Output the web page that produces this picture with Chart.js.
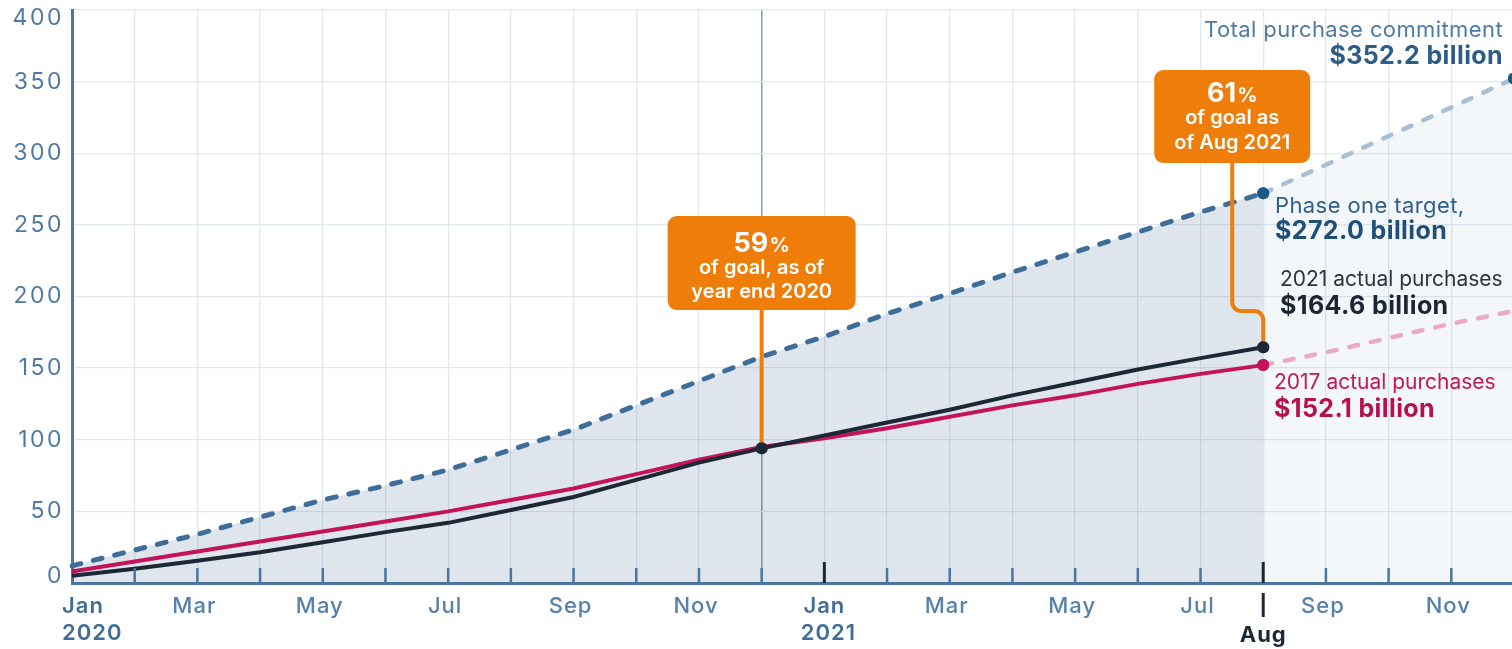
<!DOCTYPE html>
<html>
<head>
<meta charset="utf-8">
<script src="https://cdn.jsdelivr.net/npm/chart.js@4"></script>
<style>
  html, body { margin: 0; padding: 0; background: #ffffff; overflow: hidden; }
  #wrap { position: absolute; left: 0; top: 0; width: 1520px; height: 649px; }
</style>
</head>
<body>
<div id="wrap"><canvas id="c" width="1520" height="649"></canvas></div>
<script>
// Months Jan 2020 – Dec 2021
const months = [
  'Jan 2020','Feb 2020','Mar 2020','Apr 2020','May 2020','Jun 2020',
  'Jul 2020','Aug 2020','Sep 2020','Oct 2020','Nov 2020','Dec 2020',
  'Jan 2021','Feb 2021','Mar 2021','Apr 2021','May 2021','Jun 2021',
  'Jul 2021','Aug 2021','Sep 2021','Oct 2021','Nov 2021','Dec 2021'
];

// Axis labels under the month ticks (arrays = two lines)
const xTickLabels = [
  ['Jan','2020'], '', 'Mar', '', 'May', '', 'Jul', '', 'Sep', '', 'Nov', '',
  ['Jan','2021'], '', 'Mar', '', 'May', '', 'Jul', '', 'Sep', '', 'Nov', ''
];
const highlightMonth = 'Aug 2021';
const highlightLabel = 'Aug';
const yTicks = [0, 50, 100, 150, 200, 250, 300, 350, 400];

// Cumulative purchases, $ billion
const phaseOneTarget = [12, 23, 34, 46, 58, 68, 79, 93, 107, 124, 141, 158,
                        172, 188, 202, 217, 231, 245, 259, 272.0,
                        null, null, null, null];
const totalCommitment = [null, null, null, null, null, null, null, null, null, null, null, null,
                         null, null, null, null, null, null, null, 272.0,
                         292, 312, 332, 352.2];
const actual2021 = [5, 10, 15.5, 21.5, 28.5, 35.5, 42, 51, 60, 72, 84, 94,
                    103, 112, 121, 131, 140, 149, 157, 164.6,
                    null, null, null, null];
const actual2017 = [8, 15, 22, 29, 36, 43, 50, 58, 66, 76, 86, 95,
                    101, 108, 116, 124, 131, 139, 146, 152.1,
                    null, null, null, null];
const pace2017 = [null, null, null, null, null, null, null, null, null, null, null, null,
                  null, null, null, null, null, null, null, 152.1,
                  161, 171, 181, 190];

const yearEndIdx = months.indexOf('Dec 2020');
const latestIdx = months.indexOf(highlightMonth);
const lastIdx = months.length - 1;

const FONT = 'Inter, "Open Sans", sans-serif';
const AXIS = '#4a76a0';
const ORANGE = '#ef7d0a';

const billions = v => '$' + v.toFixed(1) + ' billion';

function dotRadius(indices) {
  return c => indices.includes(c.dataIndex) ? 6 : 0;
}

function drawPct(ctx, num, cx, cy) {
  ctx.save();
  ctx.fillStyle = '#ffffff';
  ctx.textBaseline = 'alphabetic';
  ctx.font = '700 27px ' + FONT;
  const w1 = ctx.measureText(num).width;
  ctx.font = '700 20px ' + FONT;
  const w2 = ctx.measureText('%').width;
  const left = cx - (w1 + w2 + 1) / 2;
  ctx.textAlign = 'left';
  ctx.font = '700 27px ' + FONT;
  ctx.fillText(num, left, cy + 10);
  ctx.font = '700 20px ' + FONT;
  ctx.fillText('%', left + w1 + 1, cy + 10);
  ctx.restore();
}

const decor = {
  id: 'decor',
  afterDatasetsDraw(chart) {
    const ctx = chart.ctx;
    const xs = chart.scales.x, ys = chart.scales.y;
    const area = chart.chartArea;

    // month ticks standing up from the axis
    ctx.save();
    for (let i = 1; i < months.length; i++) {
      const x = xs.getPixelForValue(i);
      const strong = (i === 12 || i === latestIdx);
      ctx.strokeStyle = strong ? '#1c2836' : AXIS;
      ctx.lineWidth = strong ? 3 : 2.5;
      ctx.beginPath();
      ctx.moveTo(x, area.bottom);
      ctx.lineTo(x, area.bottom - (strong ? 21 : 15));
      ctx.stroke();
    }
    ctx.restore();

    // callout: year end 2020
    ctx.save();
    const x1 = xs.getPixelForValue(yearEndIdx);
    const y1 = ys.getPixelForValue(actual2021[yearEndIdx]);
    ctx.strokeStyle = ORANGE;
    ctx.lineWidth = 4;
    ctx.beginPath();
    ctx.moveTo(x1, 305);
    ctx.lineTo(x1, y1);
    ctx.stroke();
    ctx.fillStyle = ORANGE;
    ctx.beginPath();
    ctx.roundRect(x1 - 94, 216, 188, 94, 9);
    ctx.fill();
    drawPct(ctx, '59', x1, 242);
    ctx.fillStyle = '#ffffff';
    ctx.font = '600 20px ' + FONT;
    ctx.textAlign = 'center';
    ctx.textBaseline = 'middle';
    ctx.fillText('of goal, as of', x1, 268);
    ctx.fillText('year end 2020', x1, 292);
    ctx.restore();

    // callout: Aug 2021
    ctx.save();
    const px = xs.getPixelForValue(latestIdx);
    const py = ys.getPixelForValue(actual2021[latestIdx]);
    const sx = px - 31;
    const r = 9;
    ctx.strokeStyle = ORANGE;
    ctx.lineWidth = 4;
    ctx.beginPath();
    ctx.moveTo(sx, 160);
    ctx.lineTo(sx, 311 - r);
    ctx.arcTo(sx, 311, sx + r, 311, r);
    ctx.lineTo(px - r, 311);
    ctx.arcTo(px, 311, px, 311 + r, r);
    ctx.lineTo(px, py);
    ctx.stroke();
    ctx.fillStyle = ORANGE;
    ctx.beginPath();
    ctx.roundRect(sx - 78, 70, 156, 93, 9);
    ctx.fill();
    drawPct(ctx, '61', sx, 92);
    ctx.fillStyle = '#ffffff';
    ctx.font = '600 20px ' + FONT;
    ctx.textAlign = 'center';
    ctx.textBaseline = 'middle';
    ctx.fillText('of goal as', sx, 118);
    ctx.fillText('of Aug 2021', sx, 143);
    ctx.restore();

    // end markers on top of the callout stems
    [[0, yearEndIdx], [0, latestIdx], [3, latestIdx], [2, latestIdx], [1, lastIdx]].forEach(([d, i]) => {
      const el = chart.getDatasetMeta(d).data[i];
      if (el) el.draw(ctx, area);
    });
  },
  afterDraw(chart) {
    const ctx = chart.ctx;
    const xs = chart.scales.x, ys = chart.scales.y;
    ctx.save();
    ctx.textBaseline = 'middle';

    // y axis labels
    ctx.font = '400 23px ' + FONT;
    ctx.fillStyle = '#4f7aa3';
    ctx.textAlign = 'right';
    ctx.letterSpacing = '2.5px';
    yTicks.forEach(v => {
      let y = ys.getPixelForValue(v);
      if (v === yTicks[yTicks.length - 1]) y += 8;
      if (v === 0) y -= 7;
      ctx.fillText(String(v), 64, y);
    });

    // x axis labels
    ctx.letterSpacing = '1px';
    xTickLabels.forEach((lab, i) => {
      if (!lab) return;
      const x = xs.getPixelForValue(i);
      if (Array.isArray(lab)) {
        ctx.font = '600 22px ' + FONT;
        ctx.fillStyle = '#3f6d98';
        if (i === 0) {
          ctx.textAlign = 'left';
          ctx.fillText(lab[0], 62, 606);
          ctx.fillText(lab[1], 62, 633);
        } else {
          ctx.textAlign = 'center';
          ctx.fillText(lab[0], x, 606);
          ctx.fillText(lab[1], x + 4, 633);
        }
      } else {
        ctx.font = '500 22px ' + FONT;
        ctx.fillStyle = '#5581aa';
        ctx.textAlign = 'center';
        ctx.fillText(lab, x - 3, 606);
      }
    });

    // highlighted month
    const hx = xs.getPixelForValue(latestIdx);
    ctx.strokeStyle = '#1c2836';
    ctx.lineWidth = 3;
    ctx.beginPath();
    ctx.moveTo(hx, 593);
    ctx.lineTo(hx, 617);
    ctx.stroke();
    ctx.font = '700 22px ' + FONT;
    ctx.fillStyle = '#1c2836';
    ctx.textAlign = 'center';
    ctx.fillText(highlightLabel, hx, 635);

    // series labels
    ctx.letterSpacing = '0.4px';
    ctx.textAlign = 'right';
    ctx.font = '400 22px ' + FONT;
    ctx.fillStyle = '#4e7aa3';
    ctx.fillText('Total purchase commitment', 1503, 30);
    ctx.font = '700 25px ' + FONT;
    ctx.fillStyle = '#2d5c87';
    ctx.fillText(billions(totalCommitment[lastIdx]), 1503, 56);

    ctx.textAlign = 'left';
    ctx.font = '400 22px ' + FONT;
    ctx.fillStyle = '#2e5f8a';
    ctx.fillText('Phase one target,', 1275, 206);
    ctx.font = '700 25px ' + FONT;
    ctx.fillStyle = '#1f4e79';
    ctx.fillText(billions(phaseOneTarget[latestIdx]), 1275, 231);

    ctx.font = '400 21px ' + FONT;
    ctx.letterSpacing = '0px';
    ctx.fillStyle = '#2a3542';
    ctx.fillText('2021 actual purchases', 1280, 280);
    ctx.letterSpacing = '0.4px';
    ctx.font = '700 25px ' + FONT;
    ctx.fillStyle = '#1c2533';
    ctx.fillText(billions(actual2021[latestIdx]), 1280, 306);

    ctx.font = '400 21px ' + FONT;
    ctx.letterSpacing = '0px';
    ctx.fillStyle = '#c2185b';
    ctx.fillText('2017 actual purchases', 1274, 383);
    ctx.letterSpacing = '0.4px';
    ctx.font = '700 25px ' + FONT;
    ctx.fillStyle = '#b8104f';
    ctx.fillText(billions(actual2017[latestIdx]), 1274, 409);
    ctx.restore();
  }
};

new Chart(document.getElementById('c'), {
  type: 'line',
  data: {
    labels: months,
    datasets: [
      {
        label: '2021 actual purchases',
        data: actual2021,
        borderColor: '#1c2836',
        backgroundColor: '#1c2836',
        borderWidth: 4,
        pointRadius: dotRadius([yearEndIdx, latestIdx]),
        pointBorderWidth: 0,
        pointBackgroundColor: '#1c2836',
        order: 0
      },
      {
        label: 'Total purchase commitment',
        data: totalCommitment,
        borderColor: '#a8bfd4',
        borderWidth: 4.5,
        borderDash: [9, 13],
        borderCapStyle: 'round',
        fill: 'origin',
        backgroundColor: 'rgba(47,95,138,0.05)',
        pointRadius: dotRadius([lastIdx]),
        pointBorderWidth: 0,
        pointBackgroundColor: '#1f5a85',
        order: 4
      },
      {
        label: 'Phase one target',
        data: phaseOneTarget,
        borderColor: '#3e6d97',
        borderWidth: 5,
        borderDash: [9, 13],
        borderCapStyle: 'round',
        fill: 'origin',
        backgroundColor: 'rgba(47,95,138,0.16)',
        pointRadius: dotRadius([latestIdx]),
        pointBorderWidth: 0,
        pointBackgroundColor: '#1f5a85',
        order: 3
      },
      {
        label: '2017 actual purchases',
        data: actual2017,
        borderColor: '#c4135a',
        borderWidth: 4,
        pointRadius: dotRadius([latestIdx]),
        pointBorderWidth: 0,
        pointBackgroundColor: '#c4135a',
        order: 1
      },
      {
        label: '2017 pace',
        data: pace2017,
        borderColor: '#eaaac2',
        borderWidth: 4.5,
        borderDash: [9, 13],
        borderCapStyle: 'round',
        pointRadius: 0,
        order: 2
      }
    ]
  },
  options: {
    responsive: false,
    animation: false,
    events: [],
    layout: { padding: { left: 0, right: 2, top: 10, bottom: 0 } },
    elements: { line: { tension: 0 } },
    plugins: {
      legend: { display: false },
      tooltip: { enabled: false }
    },
    scales: {
      x: {
        type: 'category',
        offset: false,
        afterFit: s => { s.height = 66; },
        ticks: { display: false, autoSkip: false },
        grid: {
          drawTicks: false,
          color: c => c.index === yearEndIdx ? '#87a3bf' : '#e2e8ef',
          lineWidth: c => c.index === yearEndIdx ? 1.6 : 1.3
        },
        border: { display: true, color: AXIS, width: 3 }
      },
      y: {
        min: 0,
        max: 400,
        afterFit: s => { s.width = 72; },
        ticks: { display: false, stepSize: 50 },
        grid: { drawTicks: false, color: '#e2e8ef', lineWidth: 1.3 },
        border: { display: true, color: AXIS, width: 3 }
      }
    }
  },
  plugins: [decor]
});
</script>
</body>
</html>
